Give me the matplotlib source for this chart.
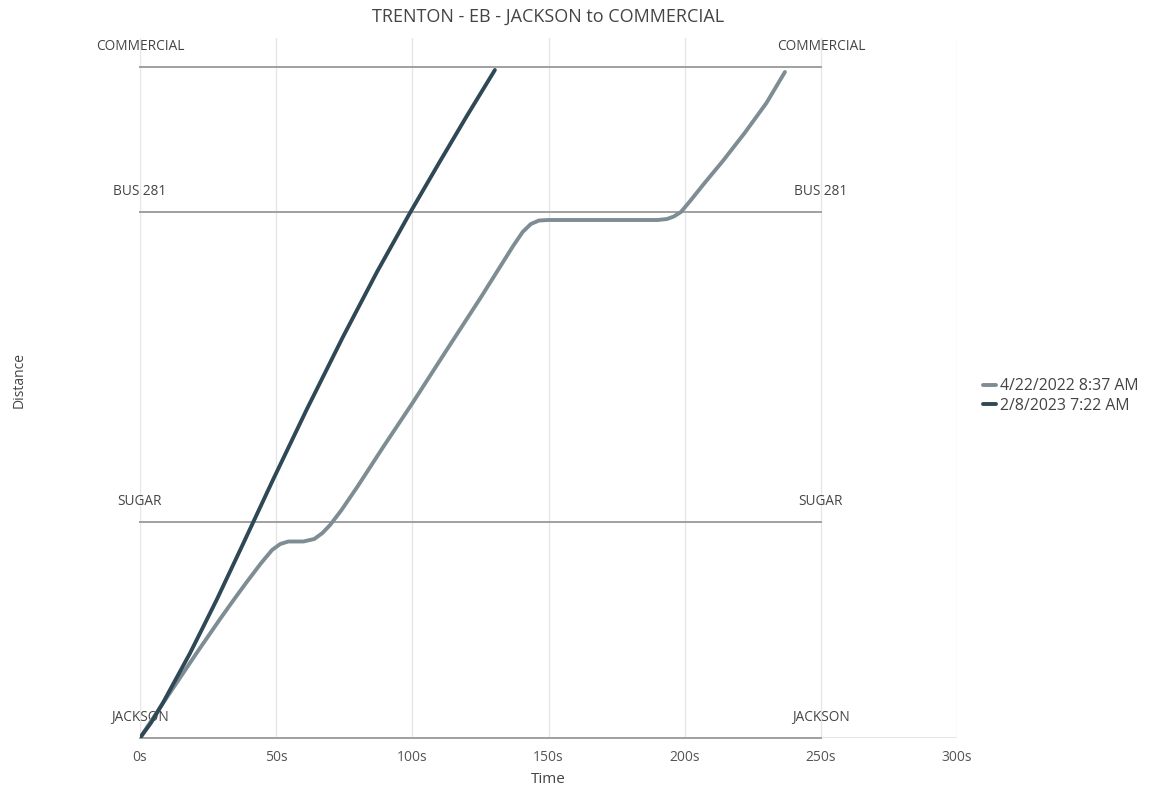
import matplotlib.pyplot as plt

plt.rcParams['font.family'] = ['Open Sans', 'DejaVu Sans']

# station positions along the corridor (distance units, JACKSON = 0)
stations = ['JACKSON', 'SUGAR', 'BUS 281', 'COMMERCIAL']
station_dist = [0, 216, 526, 671]

# run 1: 4/22/2022 8:37 AM
t_2022 = [0, 8, 20.8, 29.4, 34.9, 39.2, 44.5, 48.5, 51.5, 54.5, 60, 64, 67, 69.8,
          74, 80, 89.3, 100.3, 112.6, 125, 137, 140.5, 143.5, 146.5, 150, 170, 190,
          193.5, 196, 198.6, 202, 207, 214, 222, 230, 236.8]
d_2022 = [0, 33, 85, 119, 140, 156, 175, 188, 194, 196.5, 196.5, 199, 205, 213,
          228, 252, 291, 336, 388, 440, 492, 506, 514, 517.5, 518, 518, 518,
          519, 521.5, 526, 537, 554, 577, 605, 635, 666]

# run 2: 2/8/2023 7:22 AM
t_2023 = [0, 4, 8.4, 13, 18.4, 23, 28.3, 38, 48.8, 61.3, 74.5, 87, 99.1, 110, 120, 130.3]
d_2023 = [0, 15, 35, 58, 85, 110, 139, 195, 258, 329, 401, 466, 525, 576, 622, 668]

xticks = [0, 50, 100, 150, 200, 250, 300]
xlabels = ['0s', '50s', '100s', '150s', '200s', '250s', '300s']

fig = plt.figure(figsize=(11.56, 7.92), dpi=100)
ax = fig.add_axes([0.1211, 0.0682, 0.7068, 0.8838])

# grid lines
for x in xticks:
    ax.axvline(x, color='#e6e6e6', lw=1, zorder=0)
ax.axhline(0, color='#e0e0e0', lw=1.2, zorder=0)

# station lines with labels at both ends
for name, d in zip(stations, station_dist):
    ax.plot([0, 250], [d, d], color='#a0a0a0', lw=1.4, zorder=1, clip_on=False)
    for x in (0, 250):
        ax.annotate(name, (x, d), xytext=(0, 15), textcoords='offset points',
                    ha='center', va='center', fontsize=9.8, color='#444444',
                    annotation_clip=False)

ax.plot(t_2022, d_2022, color='#7e8d94', lw=2.8, solid_capstyle='round',
        solid_joinstyle='round', label='4/22/2022 8:37 AM', zorder=3)
ax.plot(t_2023, d_2023, color='#2f4856', lw=2.8, solid_capstyle='round',
        solid_joinstyle='round', label='2/8/2023 7:22 AM', zorder=4)

ax.set_xlim(0, 300)
ax.set_ylim(0, 700)
ax.set_xticks(xticks)
ax.set_xticklabels(xlabels, fontsize=10, color='#555555')
ax.set_yticks([])
ax.tick_params(axis='x', length=0, pad=9)
for s in ax.spines.values():
    s.set_visible(False)

ax.set_title('TRENTON - EB - JACKSON to COMMERCIAL', fontsize=13, color='#444444', pad=12)
ax.set_xlabel('Time', fontsize=11, color='#444444', labelpad=5)
fig.text(0.0165, 0.52, 'Distance', rotation=90, ha='center', va='center',
         fontsize=10, color='#444444')

fig.legend(loc='center left', bbox_to_anchor=(0.838, 0.5), frameon=False,
           fontsize=11.4, handlelength=0.8, handletextpad=0.25, labelspacing=0.2,
           labelcolor='#444444')

fig.savefig('out.png', dpi=100)
